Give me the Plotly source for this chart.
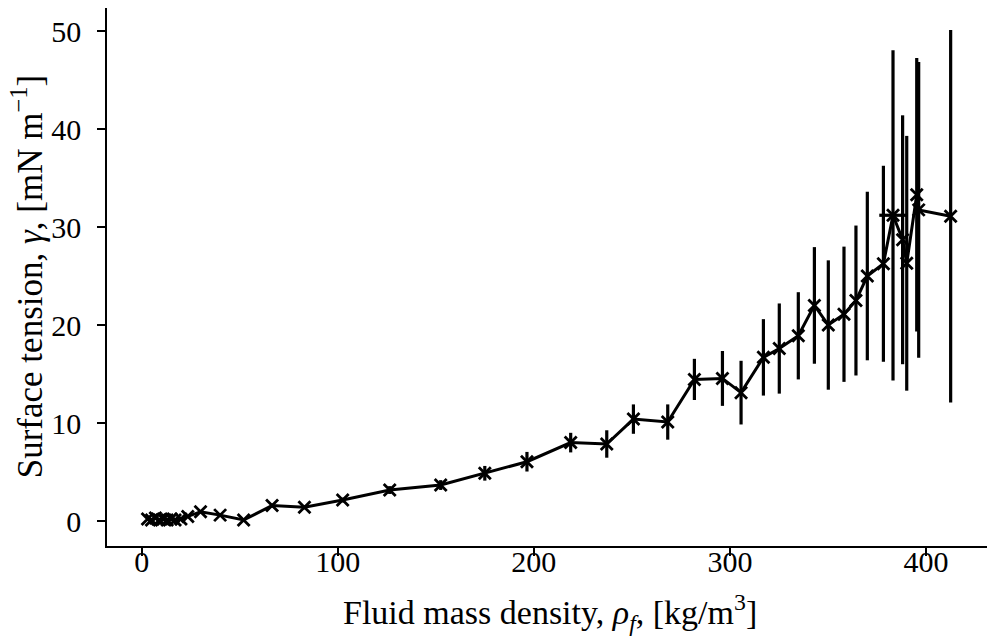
import plotly.graph_objects as go

# fluid mass density [kg/m^3]
density = [3, 5, 7, 9, 11, 13, 15, 17, 20, 23.5, 30, 40, 52, 66.5, 83, 102.5,
           126.5, 152.5, 175, 196.5, 218.8, 237.2, 250.8, 268.3, 281.9, 296.2,
           305.7, 317.1, 325.2, 334.9, 343.1, 350.2, 358.2, 364.3, 370.1, 378.3,
           383.2, 388.1, 390.2, 395.3, 396.3, 412.6]

# surface tension [mN/m]
tension = [0.2, 0.1, 0.3, 0.1, 0.2, 0.1, 0.2, 0.1, 0.2, 0.45, 0.95, 0.6, 0.1,
           1.58, 1.4, 2.14, 3.16, 3.67, 4.87, 6.05, 8.0, 7.86, 10.4, 10.1, 14.45,
           14.55, 13.1, 16.7, 17.6, 18.9, 22.0, 20.0, 21.1, 22.5, 25.0, 26.25,
           31.2, 28.7, 26.3, 33.3, 31.75, 31.1]

# standard error on tension
tension_err = [0.05, 0.05, 0.05, 0.05, 0.05, 0.05, 0.05, 0.05, 0.1, 0.1, 0.1,
               0.15, 0.15, 0.2, 0.2, 0.25, 0.4, 0.5, 0.75, 1.0, 1.0, 1.4, 1.5,
               1.8, 2.1, 2.8, 3.25, 3.9, 4.6, 4.45, 5.95, 6.6, 6.9, 7.65, 8.6,
               10.0, 16.85, 12.7, 13.0, 13.95, 15.1, 19.0]

# error on density (only one point has a visible one)
density_err = [0] * 36 + [7.0] + [0] * 5

font = "Liberation Serif"

fig = go.Figure()
fig.add_trace(go.Scatter(
    x=density, y=tension, mode="lines+markers",
    line=dict(color="black", width=3),
    marker=dict(symbol="x-thin", size=12, color="black",
                line=dict(color="black", width=2.8)),
    error_y=dict(type="data", array=tension_err, color="black",
                 thickness=3.2, width=0),
    error_x=dict(type="data", array=density_err, color="black",
                 thickness=3.2, width=0),
    showlegend=False,
))

# page body has an 8px margin, so the figure is a bit smaller than the window
fig.update_layout(
    width=987, height=635,
    paper_bgcolor="white", plot_bgcolor="white",
    margin=dict(l=99, r=2, t=0, b=97, autoexpand=False),
    font=dict(family=font, size=30, color="black"),
    xaxis=dict(range=[-17.7, 434.2], tickvals=[0, 100, 200, 300, 400],
               showline=True, linecolor="black", linewidth=1.6,
               ticks="outside", ticklen=8, tickwidth=1.6, tickcolor="black",
               ticklabelstandoff=-20,
               showgrid=False, zeroline=False, automargin=False),
    yaxis=dict(range=[-2.55, 52.35], tickvals=[0, 10, 20, 30, 40, 50],
               showline=True, linecolor="black", linewidth=1.6,
               ticks="outside", ticklen=8, tickwidth=1.6, tickcolor="black",
               ticklabelstandoff=10,
               showgrid=False, zeroline=False, automargin=False),
    annotations=[
        dict(text="Fluid mass density, <i>ρ<sub>f</sub></i>, [kg/m<sup>3</sup>]",
             xref="paper", yref="paper", x=0.5, y=-0.123, yanchor="middle",
             showarrow=False, font=dict(family=font, size=34)),
        dict(text="Surface tension, <i>γ</i>, [mN m<sup>−1</sup>]",
             xref="paper", yref="paper", x=-0.09, y=0.5, xanchor="center",
             yanchor="middle", textangle=-90, showarrow=False,
             font=dict(family=font, size=35)),
    ],
)

fig.write_html("out.html")
